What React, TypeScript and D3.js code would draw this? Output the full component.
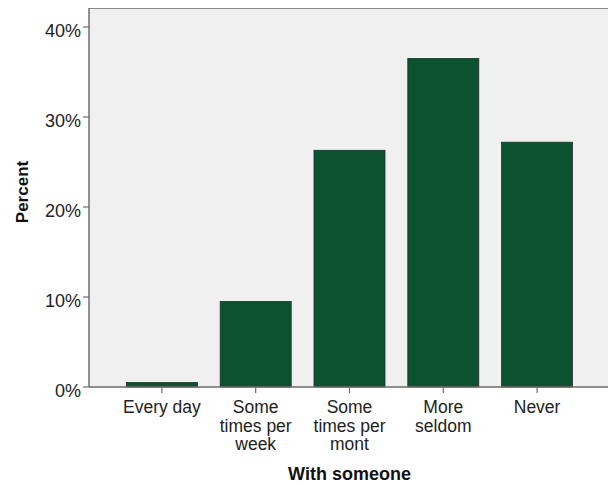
import React from "react";
import * as d3 from "d3";

const categories: string[][] = [
  ["Every day"],
  ["Some", "times per", "week"],
  ["Some", "times per", "mont"],
  ["More", "seldom"],
  ["Never"],
];
const values: number[] = [0.5, 9.5, 26.3, 36.5, 27.2];
const yTicks: number[] = [0, 10, 20, 30, 40];

export default function App() {
  const W = 608, H = 486;
  const left = 89, top = 8, right = 608, bottom = 387;
  const y = d3.scaleLinear().domain([0, 40]).range([bottom, 27]);
  const keys = categories.map((c) => c.join(" "));
  const x = d3.scaleBand().domain(keys).range([115, 584]).paddingInner(0.243).paddingOuter(0.1215);
  const font = "Liberation Sans, Arial, sans-serif";
  return (
    <svg width={W} height={H} style={{ position: "absolute", left: 0, top: 0, background: "#fff" }} fontFamily={font}>
      <rect x={left} y={top} width={right - left} height={bottom - top} fill="#f0f0f0" />
      <line x1={left} x2={right} y1={top + 0.5} y2={top + 0.5} stroke="#8a8a8a" strokeWidth={1} />
      {values.map((v, i) => (
        <rect
          key={i}
          x={x(keys[i])!}
          y={y(v)}
          width={x.bandwidth()}
          height={bottom - y(v)}
          fill="#0b5230"
          stroke="#2a2a2a"
          strokeWidth={0.8}
        />
      ))}
      <line x1={left} x2={left} y1={top} y2={bottom} stroke="#6e6e6e" strokeWidth={1.5} />
      <line x1={left} x2={right} y1={bottom} y2={bottom} stroke="#6e6e6e" strokeWidth={1.5} />
      {yTicks.map((t) => (
        <g key={t}>
          <line x1={left - 6} x2={left} y1={y(t)} y2={y(t)} stroke="#6e6e6e" strokeWidth={1.2} />
          <text x={81} y={y(t) + 10} textAnchor="end" fontSize={18} fill="#222">
            {t}%
          </text>
        </g>
      ))}
      {categories.map((lines, i) => {
        const cx = x(keys[i])! + x.bandwidth() / 2;
        return (
          <g key={i}>
            <line x1={cx} x2={cx} y1={bottom} y2={bottom + 6} stroke="#6e6e6e" strokeWidth={1.2} />
            {lines.map((l, j) => (
              <text key={j} x={cx} y={413 + j * 18.5} textAnchor="middle" fontSize={17.5} fill="#222">
                {l}
              </text>
            ))}
          </g>
        );
      })}
      <text x={349.5} y={480} textAnchor="middle" fontSize={18} fontWeight="bold" fill="#111">
        With someone
      </text>
      <text
        transform={`translate(28, 192) rotate(-90)`}
        textAnchor="middle"
        fontSize={17}
        fontWeight="bold"
        fill="#111"
      >
        Percent
      </text>
    </svg>
  );
}
